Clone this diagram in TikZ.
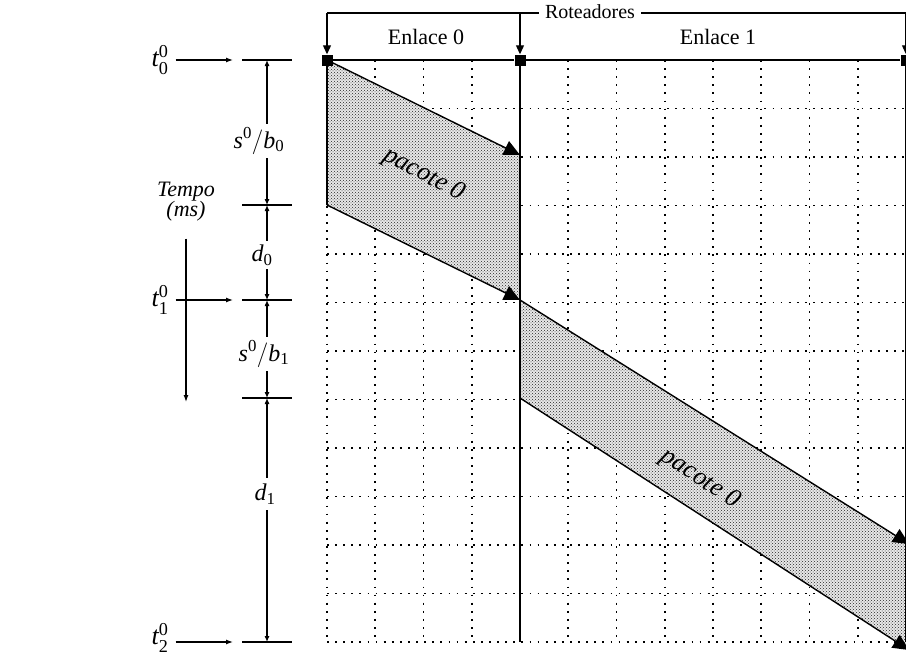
\documentclass[tikz,border=0pt]{standalone}
\usepackage{fontspec}
\usepackage{amsmath}
\setmainfont{Liberation Serif}
\usetikzlibrary{arrows.meta,patterns}
\begin{document}
\begin{tikzpicture}[x=1pt,y=-1pt,
  lbl/.style={inner sep=1pt,font=\fontsize{22}{24}\selectfont},
  tlbl/.style={inner sep=1pt,font=\fontsize{24}{26}\selectfont},
  bigt/.style={inner sep=1pt,font=\fontsize{26}{28}\selectfont},
  pk/.style={inner sep=0pt,font=\fontsize{26}{28}\selectfont\itshape},
  router/.style={fill=black,minimum size=11pt,inner sep=0pt},
  gridline/.style={line width=1.8pt,dash pattern=on 1.8pt off 6.3pt,line cap=butt},
  solid line/.style={line width=1.3pt},
  downarr/.style={line width=1.1pt,-{Triangle[length=9pt,width=8pt]}},
  pkarr/.style={line width=1.4pt,-{Triangle[length=16pt,width=15pt]}},
  dimarr/.style={line width=1.1pt,-{Latex[length=6pt,width=5pt]}},
  tarr/.style={line width=1.2pt,-{Latex[length=7pt,width=5pt]}},
  pkfill/.style={pattern=crosshatch dots,pattern color=black!85},
]
\useasboundingbox (0,0) rectangle (906,656);
\clip (0,0) rectangle (906,656);
% grid
\foreach \i in {0,1,2,3,5,6,7,8,9,10,11}
  \draw[gridline] ({327+48.25*\i},60) -- ({327+48.25*\i},642);
\foreach \j in {1,...,12}
  \draw[gridline] (327,{60+48.5*\j}) -- (906,{60+48.5*\j});
% packets
\coordinate (p0a) at (327,60);
\coordinate (p0b) at (520,155);
\coordinate (p0c) at (520,300);
\coordinate (p0d) at (327,205);
\coordinate (p1a) at (520,300);
\coordinate (p1b) at (909,544);
\coordinate (p1c) at (909,650);
\coordinate (p1d) at (520,398);
\fill[black!9] (p0a) -- (p0b) -- (p0c) -- (p0d) -- cycle;
\fill[black!9] (p1a) -- (p1b) -- (p1c) -- (p1d) -- cycle;
\fill[pkfill] (p0a) -- (p0b) -- (p0c) -- (p0d) -- cycle;
\fill[pkfill] (p1a) -- (p1b) -- (p1c) -- (p1d) -- cycle;
\draw[solid line] (p0a) -- (p0d);
\draw[pkarr] (p0a) -- (p0b);
\draw[pkarr] (p0d) -- (p0c);
\draw[pkarr] (p1a) -- (p1b);
\draw[pkarr] (p1d) -- (p1c);
\node[pk,rotate=-28] (pk0) at (424,175) {pacote 0};
\node[pk,rotate=-33] (pk1) at (700,479) {pacote 0};
% routers and links
\node[router] (r0) at (327,60) {};
\node[router] (r1) at (520,60) {};
\node[router] (r2) at (906,60) {};
\coordinate (r1b) at (520,642);
\coordinate (r2b) at (906,642);
\draw[solid line] (r0) -- (r1) -- (r2);
\draw[solid line] (r1) -- (r1b);
\draw[solid line] (r2) -- (r2b);
\node[lbl] (e0) at (426,37) {Enlace 0};
\node[lbl] (e1) at (718,37) {Enlace 1};
% top bracket
\node[lbl,font=\fontsize{20}{21}\selectfont,inner sep=6pt] (rot) at (590,12) {Roteadores};
\coordinate (bl) at (327,13);
\coordinate (bm) at (520,13);
\coordinate (br) at (906,13);
\draw[solid line] (bl) -- (rot.west |- bl);
\draw[solid line] (rot.east |- br) -- (br);
\draw[downarr] (bl) -- (r0.north);
\draw[downarr] (bm) -- (r1.north);
\draw[downarr] (br) -- (r2.north);
% time annotations
\coordinate (tk0) at (267,60);
\coordinate (tk1) at (267,205);
\coordinate (tk2) at (267,300);
\coordinate (tk3) at (267,398);
\coordinate (tk4) at (267,642);
\foreach \t in {tk0,tk1,tk2,tk3,tk4}
  \draw[solid line] ([xshift=-25pt]\t) -- ([xshift=25pt]\t);
\node[tlbl,inner sep=4pt] (sb0) at (259,141) {$\mathit{s}^{\text{0}}/\mathit{b}_{\text{0}}$};
\node[tlbl,inner sep=4pt] (d0) at (262,255) {$\mathit{d}_{\text{0}}$};
\node[tlbl,inner sep=4pt] (sb1) at (264,354) {$\mathit{s}^{\text{0}}/\mathit{b}_{\text{1}}$};
\node[tlbl,inner sep=6pt] (d1) at (265,494) {$\mathit{d}_{\text{1}}$};
\draw[dimarr] (tk0 |- sb0.north) -- (tk0);
\draw[dimarr] (tk1 |- sb0.south) -- (tk1);
\draw[dimarr] (tk1 |- d0.north) -- (tk1);
\draw[dimarr] (tk2 |- d0.south) -- (tk2);
\draw[dimarr] (tk2 |- sb1.north) -- (tk2);
\draw[dimarr] (tk3 |- sb1.south) -- (tk3);
\draw[dimarr] (tk3 |- d1.north) -- (tk3);
\draw[dimarr] (tk4 |- d1.south) -- (tk4);
% t labels
\node[bigt] (t0) at (160,60) {$\mathit{t}^{\text{0}}_{\text{0}}$};
\node[bigt] (t1) at (160,300) {$\mathit{t}^{\text{0}}_{\text{1}}$};
\node[bigt] (t2) at (160,638) {$\mathit{t}^{\text{0}}_{\text{2}}$};
\coordinate (a0) at (233,60);
\coordinate (a1) at (233,300);
\coordinate (a2) at (233,642);
\draw[tarr,shorten <=6pt] (t0.east) -- (a0);
\draw[tarr,shorten <=6pt] (t1.east) -- (a1);
\draw[tarr,shorten <=6pt] (t2.east |- a2) -- (a2);
% tempo
\node[lbl,align=center,font=\fontsize{22}{20}\selectfont\itshape] (tempo) at (186,202) {Tempo\\(ms)};
\coordinate (tm) at (186,402);
\draw[tarr,shorten <=16pt] (tempo.south) -- (tm);
\end{tikzpicture}
\end{document}
